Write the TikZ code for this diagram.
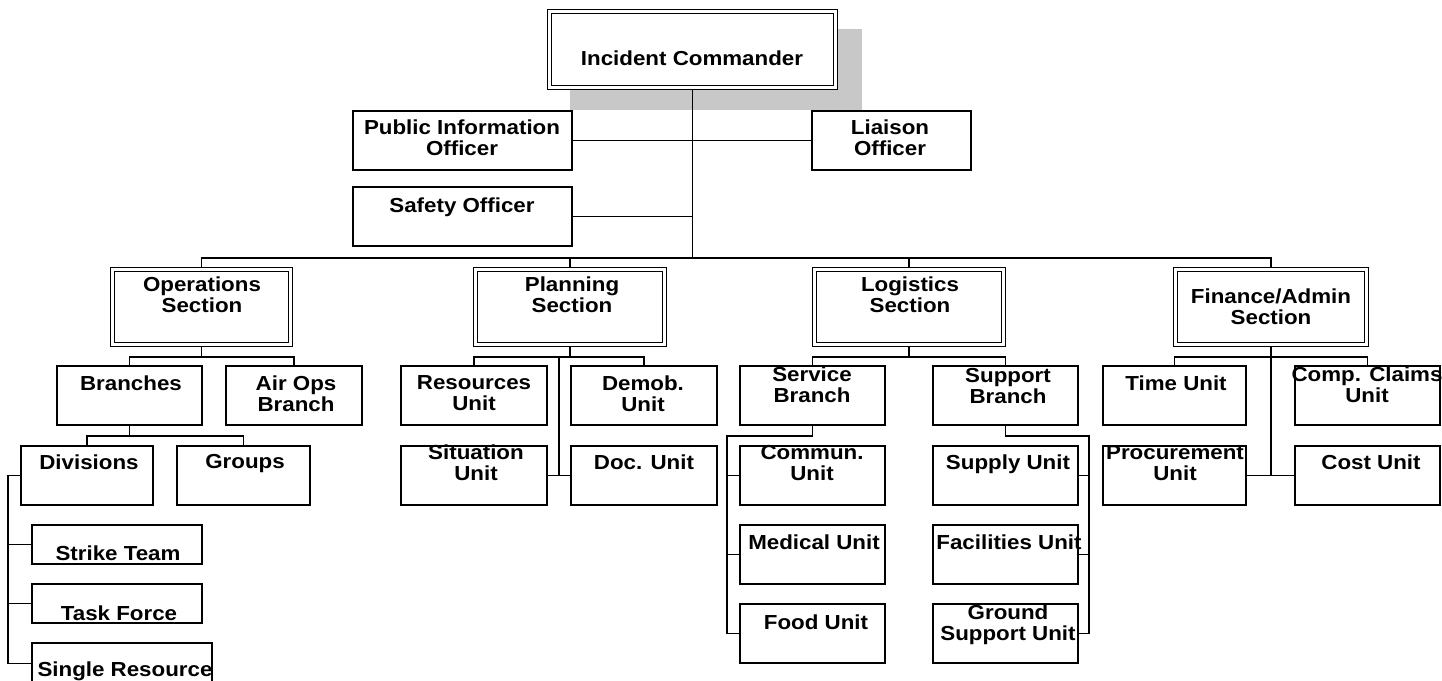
\documentclass[tikz,border=0pt]{standalone}
\usepackage{fontspec}
\newfontfamily\lblfont[FakeStretch=1.1]{Liberation Sans}
\usetikzlibrary{calc}
\definecolor{shadowgray}{HTML}{C8C8C8}
\tikzset{
  box/.style={draw, line width=2pt, fill=white, inner sep=0pt},
  dbox/.style={draw, line width=1.4pt, double=white, double distance=2.4pt, fill=white, inner sep=0pt, outer sep=2.6pt},
  shadowbox/.style={fill=shadowgray, draw=none, inner sep=0pt},
  lbl/.style={inner sep=0pt, align=center, font=\lblfont\bfseries\fontsize{20.3}{21}\selectfont},
  conn/.style={line width=1.8pt},
}
\newcommand\bx[6]{\node[#1, minimum width={#5pt-#3pt}, minimum height={#6pt-#4pt}] (#2) at ({(#3+#5)/2},{(#4+#6)/2}) {};}
\newcommand\tx[4]{\node[lbl] (#1) at (#2,#3) {#4};}
\begin{document}
\begin{tikzpicture}[x=1pt,y=-1pt]
\useasboundingbox (0,0) rectangle (1442,680);
\clip (0,0) rectangle (1442,680);
% shadow
\bx{shadowbox}{icsh}{570}{29}{862}{110}
% boxes
\bx{dbox}{ic}{549.5}{11.5}{835.5}{87.5}
\bx{box}{pio}{353}{111}{572}{170}
\bx{box}{lia}{812}{111}{971}{170}
\bx{box}{saf}{353}{187}{572}{246}
\bx{dbox}{ops}{112.5}{269.5}{290.5}{344.5}
\bx{dbox}{pla}{475.5}{269.5}{664.5}{344.5}
\bx{dbox}{log}{814.5}{269.5}{1003.5}{344.5}
\bx{dbox}{fin}{1175.5}{269.5}{1366.5}{344.5}
\bx{box}{br}{57}{366}{202}{425}
\bx{box}{air}{226}{366}{362}{425}
\bx{box}{div}{21}{446}{153}{505}
\bx{box}{grp}{177}{446}{310}{505}
\bx{box}{st}{32}{525}{202}{564}
\bx{box}{tf}{32}{584}{202}{623}
\bx{box}{sr}{32}{643}{212}{684}
\bx{box}{res}{401}{366}{547}{425}
\bx{box}{dem}{571}{366}{717}{425}
\bx{box}{sit}{401}{446}{547}{505}
\bx{box}{doc}{571}{446}{717}{505}
\bx{box}{svc}{740}{366}{885}{425}
\bx{box}{sup}{933}{366}{1078}{425}
\bx{box}{com}{740}{446}{885}{505}
\bx{box}{suu}{933}{446}{1078}{505}
\bx{box}{med}{740}{525}{885}{584}
\bx{box}{fac}{933}{525}{1078}{584}
\bx{box}{food}{740}{604}{885}{663}
\bx{box}{gsu}{933}{604}{1078}{663}
\bx{box}{tim}{1103}{366}{1246}{425}
\bx{box}{ccu}{1295}{366}{1440}{425}
\bx{box}{pro}{1103}{446}{1246}{505}
\bx{box}{cst}{1295}{446}{1440}{505}
% top level connectors
\coordinate (bus) at (ic.south |- 0,258);
\draw[conn] (ic.south) -- (bus);
\draw[conn] (ops.north) |- (bus) -| (fin.north);
\draw[conn] (pla.north) -- (pla.north |- bus);
\draw[conn] (log.north) -- (log.north |- bus);
\draw[conn] (pio.east) -- (lia.west);
\draw[conn] (saf.east) -- (saf.east -| bus);
% operations
\coordinate (opb) at (ops.south |- 0,357);
\draw[conn] (ops.south) -- (opb);
\draw[conn] (br.north) |- (opb) -| (air.north);
\coordinate (brb) at (br.south |- 0,436);
\draw[conn] (br.south) -- (brb);
\draw[conn] (div.north) |- (brb) -| (grp.north);
\coordinate (dvl) at (8,0 |- div.west);
\draw[conn] (div.west) -- (dvl) |- (sr.west);
\draw[conn] (st.west) -- (st.west -| dvl);
\draw[conn] (tf.west) -- (tf.west -| dvl);
% planning
\coordinate (plb) at (pla.south |- 0,357);
\draw[conn] (pla.south) -- (plb);
\draw[conn] (res.north) |- (plb) -| (dem.north);
\draw[conn] (sit.east) -- (doc.west);
\coordinate (plm) at ($(sit.east)!0.5!(doc.west)$);
\draw[conn] (plm) -- (plm |- plb);
% logistics
\coordinate (lgb) at (log.south |- 0,357);
\draw[conn] (log.south) -- (lgb);
\draw[conn] (svc.north) |- (lgb) -| (sup.north);
\coordinate (svl) at (727,436);
\draw[conn] (svc.south) |- (svl) |- (food.west);
\draw[conn] (com.west) -- (com.west -| svl);
\draw[conn] (med.west) -- (med.west -| svl);
\coordinate (spl) at (1089,436);
\draw[conn] (sup.south) |- (spl) |- (gsu.east);
\draw[conn] (suu.east) -- (suu.east -| spl);
\draw[conn] (fac.east) -- (fac.east -| spl);
% finance
\coordinate (fib) at (fin.south |- 0,357);
\draw[conn] (fin.south) -- (fin.south |- pro.east);
\draw[conn] (tim.north) |- (fib) -| (ccu.north);
\draw[conn] (pro.east) -- (cst.west);
% texts
\tx{ic-t}{692}{58.5}{Incident Commander}
\tx{pio-t}{462}{137.5}{Public Information\\Officer}
\tx{lia-t}{890}{137.5}{Liaison\\Officer}
\tx{saf-t}{462}{207}{Safety Officer}
\tx{ops-t}{202}{295}{Operations\\Section}
\tx{pla-t}{572}{295}{Planning\\Section}
\tx{log-t}{910}{295}{Logistics\\Section}
\tx{fin-t}{1271}{307}{Finance/Admin\\Section}
\tx{br-t}{131}{383}{Branches}
\tx{air-t}{296}{393.5}{Air Ops\\Branch}
\tx{div-t}{89}{462}{Divisions}
\tx{grp-t}{245}{464}{Groups}
\tx{st-t}{118}{553}{Strike Team}
\tx{tf-t}{119}{613}{Task Force}
\tx{sr-t}{125}{671}{Single Resource}
\tx{res-t}{474}{393.5}{Resources\\Unit}
\tx{dem-t}{643}{393.5}{Demob.\\Unit}
\tx{sit-t}{476}{463}{Situation\\Unit}
\tx{doc-t}{644}{462}{Doc. Unit}
\tx{svc-t}{812}{384.5}{Service\\Branch}
\tx{sup-t}{1008}{386.5}{Support\\Branch}
\tx{com-t}{812}{463}{Commun.\\Unit}
\tx{suu-t}{1008}{464}{Supply Unit}
\tx{med-t}{814}{542}{Medical Unit}
\tx{fac-t}{1009}{542}{Facilities Unit}
\tx{food-t}{816}{622}{Food Unit}
\tx{gsu-t}{1008}{624.5}{Ground\\Support Unit}
\tx{tim-t}{1176}{383}{Time Unit}
\tx{ccu-t}{1367}{385}{Comp. Claims\\Unit}
\tx{pro-t}{1175}{463}{Procurement\\Unit}
\tx{cst-t}{1371}{462}{Cost Unit}
\end{tikzpicture}
\end{document}
